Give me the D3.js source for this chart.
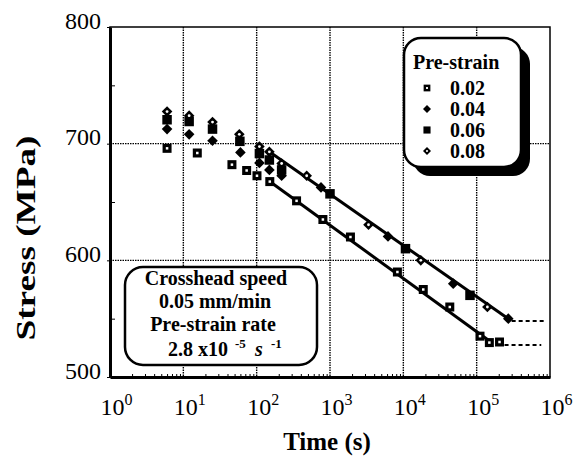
<!DOCTYPE html>
<html>
<head>
<meta charset="utf-8">
<script src="https://cdn.jsdelivr.net/npm/d3@7"></script>
<style>
body { margin: 0; background: #fff; }
svg { display: block; font-family: "Liberation Serif", "Times New Roman", serif; }
</style>
</head>
<body>
<div id="chart"></div>
<script>
const margin = { top: 27, right: 32, bottom: 82, left: 110 };
const width = 582 - margin.left - margin.right;
const height = 459 - margin.top - margin.bottom;

// points are [time (s), stress (MPa)]
const preStrain002 = [[6, 696], [15.5, 692], [46, 682], [73, 677], [101, 672.5], [151, 667.5],
    [350, 651], [800, 635], [1900, 620], [8300, 590], [18700, 575], [43000, 560],
    [111000, 535], [149000, 529.5], [205000, 530]];
const preStrain004 = [[6, 712.5], [12, 708], [25, 702.5], [60, 692.5], [109, 683.5], [149, 677.5],
    [219, 672.5], [754, 662.5], [6180, 620.5], [47900, 580], [270000, 550]];
const preStrain006 = [[6, 720.5], [12, 719], [25, 712.5], [59, 702], [109, 691.5], [149, 686],
    [219, 677.5], [1000, 657], [10700, 610], [81100, 570]];
const preStrain008 = [[6, 727.5], [12, 724], [25, 718.5], [58, 708], [109, 697.5], [149, 693],
    [219, 683], [481, 672.5], [3350, 630.5], [17300, 600], [140000, 560]];

const fitUpper = [[149, 693], [270000, 550]];
const fitLower = [[151, 667.5], [145000, 531.5]];
const tailUpper = [[300000, 548], [880000, 548]];
const tailLower = [[240000, 527.5], [760000, 527.5]];

const legendLabels = ["0.02", "0.04", "0.06", "0.08"];
const markerKinds = ["openSquare", "diamond", "square", "openDiamond"];
const timeTicks = [1, 10, 100, 1e3, 1e4, 1e5, 1e6];
const timeExponents = ["0", "1", "2", "3", "4", "5", "6"];
const stressTicks = [500, 600, 700, 800];
const stressMinor = [550, 650, 750];

const svg = d3.select("#chart")
    .append("svg")
    .attr("width", width + margin.left + margin.right)
    .attr("height", height + margin.top + margin.bottom)
    .append("g")
    .attr("transform", `translate(${margin.left},${margin.top})`);

const x = d3.scaleLog().domain([1, 1e6]).range([0, width]);
const y = d3.scaleLinear().domain([500, 800]).range([height, 0]);

// dotted grid
svg.selectAll(".vgrid")
    .data(timeTicks.slice(1, -1))
    .enter()
    .append("line")
    .attr("x1", d => x(d)).attr("x2", d => x(d))
    .attr("y1", 0).attr("y2", height)
    .attr("stroke", "#000")
    .attr("stroke-width", 1.4)
    .attr("stroke-dasharray", "1.5,1");

svg.selectAll(".hgrid")
    .data([600, 700])
    .enter()
    .append("line")
    .attr("x1", 0).attr("x2", width)
    .attr("y1", d => y(d)).attr("y2", d => y(d))
    .attr("stroke", "#000")
    .attr("stroke-width", 1.4)
    .attr("stroke-dasharray", "1.5,1");

// fitted lines and dashed tails
const line = d3.line().x(d => x(d[0])).y(d => y(d[1]));

[fitUpper, fitLower].forEach(f => {
    svg.append("path").datum(f)
        .attr("d", line)
        .attr("fill", "none")
        .attr("stroke", "#000")
        .attr("stroke-width", 3);
});
[tailUpper, tailLower].forEach(f => {
    svg.append("path").datum(f)
        .attr("d", line)
        .attr("fill", "none")
        .attr("stroke", "#000")
        .attr("stroke-width", 2)
        .attr("stroke-dasharray", "4,3");
});

function drawMarker(g, kind, k) {
    const sq = s => d3.symbol(d3.symbolSquare, s * s)();
    if (kind === "openSquare") {
        g.append("path").attr("d", sq(9 * k)).attr("fill", "#000");
        g.append("path").attr("d", sq(2.5 * k)).attr("fill", "#fff");
    } else if (kind === "square") {
        g.append("path").attr("d", sq(9.5 * k)).attr("fill", "#000");
    } else if (kind === "diamond") {
        g.append("path").attr("d", sq(7.5 * k)).attr("transform", "rotate(45)").attr("fill", "#000");
    } else {
        g.append("path").attr("d", sq(7.5 * k)).attr("transform", "rotate(45)").attr("fill", "#000");
        g.append("circle").attr("r", 1.4 * k).attr("fill", "#fff");
    }
}

const allSeries = [preStrain002, preStrain004, preStrain006, preStrain008];
allSeries.forEach((data, i) => {
    svg.selectAll(".pt" + i)
        .data(data)
        .enter()
        .append("g")
        .attr("transform", d => `translate(${x(d[0])},${y(d[1])})`)
        .each(function () { drawMarker(d3.select(this), markerKinds[i], 1); });
});

// frame: thin top/right, heavy left/bottom
svg.append("rect")
    .attr("width", width).attr("height", height)
    .attr("fill", "none").attr("stroke", "#000").attr("stroke-width", 1.5);

// legend
const legend = svg.append("g").attr("transform", `translate(${294},${11})`);
legend.append("rect")
    .attr("x", 9).attr("y", 9).attr("width", 117).attr("height", 129)
    .attr("rx", 17).attr("fill", "#000");
legend.append("rect")
    .attr("width", 117).attr("height", 129)
    .attr("rx", 17).attr("fill", "#fff").attr("stroke", "#000").attr("stroke-width", 2.5);
legend.append("text")
    .attr("x", 9).attr("y", 31)
    .style("font-size", "20px").style("font-weight", "bold")
    .text("Pre-strain");
legendLabels.forEach((lab, i) => {
    const row = legend.append("g").attr("transform", `translate(0,${50 + i * 21})`);
    const m = row.append("g").attr("transform", "translate(23,0)");
    drawMarker(m, markerKinds[i], 0.75);
    row.append("text")
        .attr("x", 46).attr("y", 7)
        .style("font-size", "20px").style("font-weight", "bold")
        .text(lab);
});

// test conditions box
const note = svg.append("g").attr("transform", `translate(${15},${240})`);
note.append("rect")
    .attr("width", 192).attr("height", 98)
    .attr("rx", 18).attr("fill", "#fff").attr("stroke", "#000").attr("stroke-width", 2.5);
const noteText = note.append("g")
    .style("font-size", "20px").style("font-weight", "bold");
noteText.append("text").attr("x", 91).attr("y", 18).attr("text-anchor", "middle").text("Crosshead speed");
noteText.append("text").attr("x", 90).attr("y", 41).attr("text-anchor", "middle").text("0.05 mm/min");
noteText.append("text").attr("x", 88).attr("y", 64).attr("text-anchor", "middle").text("Pre-strain rate");
noteText.append("text").attr("x", 43).attr("y", 89).text("2.8 x10");
noteText.append("text").attr("x", 110).attr("y", 81).style("font-size", "13px").text("-5");
noteText.append("text").attr("x", 130).attr("y", 89).style("font-style", "italic").text("s");
noteText.append("text").attr("x", 146).attr("y", 81).style("font-size", "13px").text("-1");

// axes
const yAxis = svg.append("g")
    .call(d3.axisLeft(y).tickValues(stressTicks).tickSize(3).tickSizeOuter(0));
yAxis.select(".domain").attr("stroke-width", 3);
yAxis.selectAll("text")
    .attr("x", -9).attr("dy", "0").attr("y", 1)
    .attr("fill", "#000")
    .style("font-size", "24px")
    .style("font-family", "'Liberation Serif', serif");

svg.append("g")
    .call(d3.axisRight(y).tickValues(stressMinor).tickSize(5).tickFormat(""))
    .select(".domain").remove();

const minorTimes = [];
timeTicks.slice(0, -1).forEach(p => { for (let m = 2; m <= 9; m++) minorTimes.push(p * m); });
svg.append("g")
    .attr("transform", `translate(0,${height})`)
    .call(d3.axisTop(x).tickValues(minorTimes).tickSize(3).tickFormat(""))
    .select(".domain").remove();

const xAxis = svg.append("g")
    .attr("transform", `translate(0,${height})`)
    .call(d3.axisBottom(x).tickValues(timeTicks).tickSize(0).tickFormat(""));
xAxis.select(".domain").attr("stroke-width", 3);
xAxis.selectAll(".tick").each(function (d, i) {
    const t = d3.select(this).append("text")
        .attr("x", -10).attr("y", 38)
        .attr("text-anchor", "start")
        .attr("fill", "#000")
        .style("font-size", "24px")
        .style("font-family", "'Liberation Serif', serif");
    t.append("tspan").text("10");
    t.append("tspan").attr("dy", -10).style("font-size", "16px").text(timeExponents[i]);
});

// axis titles
svg.append("text")
    .attr("text-anchor", "middle")
    .attr("transform", `translate(${-75},${211}) rotate(-90)`)
    .attr("textLength", 205)
    .attr("lengthAdjust", "spacingAndGlyphs")
    .style("font-size", "27px").style("font-weight", "bold")
    .text("Stress  (MPa)");

svg.append("text")
    .attr("text-anchor", "middle")
    .attr("x", x(1e3) - 3).attr("y", height + 73)
    .style("font-size", "25px").style("font-weight", "bold")
    .text("Time (s)");
</script>
</body>
</html>
